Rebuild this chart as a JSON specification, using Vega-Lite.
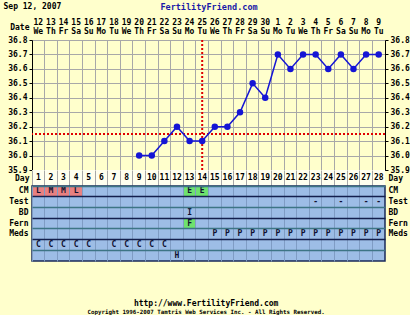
{
  "$schema": "https://vega.github.io/schema/vega-lite/v6.json",
  "background": "#ffffcc",
  "padding": {"left": 3, "top": 2, "right": 0, "bottom": 0},
  "spacing": 0,
  "bounds": "flush",
  "title": {
    "text": "http://www.FertilityFriend.com",
    "subtitle": "Copyright 1996-2007 Tamtris Web Services Inc. - All Rights Reserved.",
    "orient": "bottom", "anchor": "middle", "offset": 38,
    "font": "DejaVu Sans Mono", "fontSize": 8, "fontWeight": "bold", "color": "#000000",
    "subtitleFont": "DejaVu Sans Mono", "subtitleFontSize": 5.8, "subtitleFontWeight": "bold", "subtitleColor": "#000000", "subtitlePadding": 1
  },
  "datasets": {
    "days": [
      {"day": 1, "dom": 12, "wd": "We"}, {"day": 2, "dom": 13, "wd": "Th"}, {"day": 3, "dom": 14, "wd": "Fr"},
      {"day": 4, "dom": 15, "wd": "Sa"}, {"day": 5, "dom": 16, "wd": "Su"}, {"day": 6, "dom": 17, "wd": "Mo"},
      {"day": 7, "dom": 18, "wd": "Tu"}, {"day": 8, "dom": 19, "wd": "We"}, {"day": 9, "dom": 20, "wd": "Th"},
      {"day": 10, "dom": 21, "wd": "Fr"}, {"day": 11, "dom": 22, "wd": "Sa"}, {"day": 12, "dom": 23, "wd": "Su"},
      {"day": 13, "dom": 24, "wd": "Mo"}, {"day": 14, "dom": 25, "wd": "Tu"}, {"day": 15, "dom": 26, "wd": "We"},
      {"day": 16, "dom": 27, "wd": "Th"}, {"day": 17, "dom": 28, "wd": "Fr"}, {"day": 18, "dom": 29, "wd": "Sa"},
      {"day": 19, "dom": 30, "wd": "Su"}, {"day": 20, "dom": 1, "wd": "Mo"}, {"day": 21, "dom": 2, "wd": "Tu"},
      {"day": 22, "dom": 3, "wd": "We"}, {"day": 23, "dom": 4, "wd": "Th"}, {"day": 24, "dom": 5, "wd": "Fr"},
      {"day": 25, "dom": 6, "wd": "Sa"}, {"day": 26, "dom": 7, "wd": "Su"}, {"day": 27, "dom": 8, "wd": "Mo"},
      {"day": 28, "dom": 9, "wd": "Tu"}
    ],
    "temps": [
      {"day": 9, "temp": 36.0}, {"day": 10, "temp": 36.0}, {"day": 11, "temp": 36.1}, {"day": 12, "temp": 36.2},
      {"day": 13, "temp": 36.1}, {"day": 14, "temp": 36.1}, {"day": 15, "temp": 36.2}, {"day": 16, "temp": 36.2},
      {"day": 17, "temp": 36.3}, {"day": 18, "temp": 36.5}, {"day": 19, "temp": 36.4}, {"day": 20, "temp": 36.7},
      {"day": 21, "temp": 36.6}, {"day": 22, "temp": 36.7}, {"day": 23, "temp": 36.7}, {"day": 24, "temp": 36.6},
      {"day": 25, "temp": 36.7}, {"day": 26, "temp": 36.6}, {"day": 27, "temp": 36.7}, {"day": 28, "temp": 36.7}
    ],
    "markers": [{"ovulation": 14, "coverline": 36.15}],
    "cells": [
      {"day": 1, "row": "CM", "code": "L"}, {"day": 2, "row": "CM", "code": "M"}, {"day": 3, "row": "CM", "code": "M"},
      {"day": 4, "row": "CM", "code": "L"}, {"day": 13, "row": "CM", "code": "E"}, {"day": 14, "row": "CM", "code": "E"},
      {"day": 23, "row": "Test", "code": "-"}, {"day": 25, "row": "Test", "code": "-"}, {"day": 27, "row": "Test", "code": "-"},
      {"day": 28, "row": "Test", "code": "-"},
      {"day": 13, "row": "BD", "code": "I"},
      {"day": 13, "row": "Fern", "code": "F"},
      {"day": 15, "row": "Meds", "code": "P"}, {"day": 16, "row": "Meds", "code": "P"}, {"day": 17, "row": "Meds", "code": "P"},
      {"day": 18, "row": "Meds", "code": "P"}, {"day": 19, "row": "Meds", "code": "P"}, {"day": 20, "row": "Meds", "code": "P"},
      {"day": 21, "row": "Meds", "code": "P"}, {"day": 22, "row": "Meds", "code": "P"}, {"day": 23, "row": "Meds", "code": "P"},
      {"day": 24, "row": "Meds", "code": "P"}, {"day": 25, "row": "Meds", "code": "P"}, {"day": 26, "row": "Meds", "code": "P"},
      {"day": 27, "row": "Meds", "code": "P"}, {"day": 28, "row": "Meds", "code": "P"},
      {"day": 1, "row": "r6", "code": "C"}, {"day": 2, "row": "r6", "code": "C"}, {"day": 3, "row": "r6", "code": "C"},
      {"day": 4, "row": "r6", "code": "C"}, {"day": 5, "row": "r6", "code": "C"}, {"day": 7, "row": "r6", "code": "C"},
      {"day": 8, "row": "r6", "code": "C"}, {"day": 9, "row": "r6", "code": "C"}, {"day": 10, "row": "r6", "code": "C"},
      {"day": 11, "row": "r6", "code": "C"},
      {"day": 12, "row": "r7", "code": "H"}
    ]
  },
  "vconcat": [
    {
      "width": 353, "height": 22,
      "data": {"name": "days"},
      "layer": [
        {
          "mark": {"type": "text"},
          "encoding": {
            "x": {"field": "day", "type": "ordinal",
              "scale": {"type": "band", "domain": [1,2,3,4,5,6,7,8,9,10,11,12,13,14,15,16,17,18,19,20,21,22,23,24,25,26,27,28], "paddingInner": 0, "paddingOuter": 0},
              "axis": {"orient": "top", "labels": false, "ticks": false, "domain": false, "grid": false,
                "title": "FertilityFriend.com", "titleColor": "#1a1aa8", "titleFontSize": 8.5, "titleY": -12, "titleBaseline": "middle"}},
            "y": {"datum": "n", "type": "ordinal",
              "scale": {"type": "point", "domain": ["n", "w"], "padding": 0.722, "align": 0.385},
              "axis": {"orient": "left", "ticks": false, "domain": false, "labelPadding": 3, "labelOffset": 4,
                "labelExpr": "datum.value === 'n' ? 'Date' : ''",
                "title": "Sep 12, 2007", "titleAngle": 0, "titleAlign": "left", "titleBaseline": "middle", "titleX": -29, "titleY": -12}},
            "text": {"field": "dom"}
          }
        },
        {
          "mark": {"type": "text"},
          "encoding": {
            "x": {"field": "day", "type": "ordinal"},
            "y": {"datum": "w", "type": "ordinal"},
            "text": {"field": "wd"}
          }
        }
      ]
    },
    {
      "width": 353, "height": 130,
      "view": {"fill": "#ffffcc", "stroke": null},
      "layer": [
        {
          "data": {"name": "markers"},
          "mark": {"type": "rule", "color": "#e00000", "strokeWidth": 2, "strokeDash": [2, 2]},
          "encoding": {
            "x": {"field": "ovulation", "type": "ordinal",
              "scale": {"type": "band", "domain": [1,2,3,4,5,6,7,8,9,10,11,12,13,14,15,16,17,18,19,20,21,22,23,24,25,26,27,28], "paddingInner": 0, "paddingOuter": 0},
              "axis": {"labels": false, "ticks": false, "domain": false, "grid": true, "bandPosition": 0, "gridColor": "#a8a8a8", "title": null}}
          }
        },
        {
          "data": {"name": "markers"},
          "mark": {"type": "rule", "color": "#e00000", "strokeWidth": 2, "strokeDash": [2, 2]},
          "encoding": {
            "y": {"field": "coverline", "type": "quantitative",
              "scale": {"domain": [35.9, 36.8], "nice": false, "zero": false},
              "axis": {"orient": "right", "values": [35.9,36.0,36.1,36.2,36.3,36.4,36.5,36.6,36.7,36.8], "format": ".1f", "title": null, "tickSize": 3, "labelPadding": 2, "grid": false}}
          }
        },
        {
          "data": {"name": "temps"},
          "mark": {"type": "line", "color": "#1515d5", "strokeWidth": 1.5},
          "encoding": {
            "x": {"field": "day", "type": "ordinal",
              "axis": {"labels": false, "ticks": false, "domain": false, "grid": true, "bandPosition": 0, "gridColor": "#a8a8a8", "title": null}},
            "y": {"field": "temp", "type": "quantitative",
              "scale": {"domain": [35.9, 36.8], "nice": false, "zero": false},
              "axis": {"orient": "left", "values": [35.9,36.0,36.1,36.2,36.3,36.4,36.5,36.6,36.7,36.8], "format": ".1f", "title": null, "tickSize": 3, "labelPadding": 2,
                "grid": true,
                "gridColor": {"condition": {"test": "datum.value < 35.95", "value": "#000000"}, "value": "#a8a8a8"},
                "gridDash": {"condition": {"test": "datum.value < 35.95", "value": [2, 1]}, "value": []}}}
          }
        },
        {
          "data": {"name": "temps"},
          "mark": {"type": "point", "filled": true, "size": 42, "color": "#1515d5", "opacity": 1},
          "encoding": {
            "x": {"field": "day", "type": "ordinal"},
            "y": {"field": "temp", "type": "quantitative", "axis": null}
          }
        }
      ],
      "resolve": {"axis": {"y": "independent"}}
    },
    {
      "width": 353, "height": 16,
      "view": {"fill": "#ffffee", "stroke": null},
      "data": {"name": "days"},
      "layer": [
        {
          "mark": {"type": "text"},
          "encoding": {
            "x": {"field": "day", "type": "ordinal",
              "scale": {"type": "band", "domain": [1,2,3,4,5,6,7,8,9,10,11,12,13,14,15,16,17,18,19,20,21,22,23,24,25,26,27,28], "paddingInner": 0, "paddingOuter": 0},
              "axis": {"labels": false, "ticks": false, "domain": false, "grid": true, "bandPosition": 0, "gridColor": "#a8a8a8", "title": null}},
            "y": {"datum": "Day", "type": "nominal", "axis": {"orient": "left", "title": null, "ticks": false, "domain": false, "labelPadding": 3}},
            "text": {"field": "day"}
          }
        },
        {
          "mark": {"type": "text", "opacity": 0},
          "encoding": {
            "x": {"field": "day", "type": "ordinal"},
            "y": {"datum": "Day", "type": "nominal", "axis": {"orient": "right", "title": null, "ticks": false, "domain": false, "labelPadding": 3}},
            "text": {"field": "day"}
          }
        }
      ],
      "resolve": {"axis": {"y": "independent"}}
    },
    {
      "width": 353, "height": 75,
      "view": {"fill": "#9dbde6", "stroke": "#1a2a5a", "strokeWidth": 1.5},
      "data": {"name": "cells"},
      "layer": [
        {
          "transform": [{"filter": {"field": "code", "oneOf": ["L", "M", "E", "F"]}}],
          "mark": {"type": "rect"},
          "encoding": {
            "x": {"field": "day", "type": "ordinal",
              "scale": {"type": "band", "domain": [1,2,3,4,5,6,7,8,9,10,11,12,13,14,15,16,17,18,19,20,21,22,23,24,25,26,27,28], "paddingInner": 0, "paddingOuter": 0},
              "axis": {"labels": false, "ticks": false, "domain": false, "grid": true, "bandPosition": 0, "gridColor": "#7f9cc4", "title": null}},
            "y": {"field": "row", "type": "ordinal",
              "scale": {"type": "band", "domain": ["CM", "Test", "BD", "Fern", "Meds", "r6", "r7"], "paddingInner": 0, "paddingOuter": 0},
              "axis": {"orient": "left", "title": null, "ticks": false, "domain": false, "labelPadding": 4,
                "labelExpr": "indexof(['r6','r7'], datum.value) >= 0 ? '' : datum.value",
                "grid": true, "bandPosition": 0, "gridWidth": 1.5,
                "gridColor": {"condition": {"test": "indexof(['Test','Fern','r6'], datum.value) >= 0", "value": "#14204e"}, "value": "#3d7585"}}},
            "color": {"field": "code", "type": "nominal",
              "scale": {"domain": ["L", "M", "E", "F"], "range": ["#e88080", "#e88080", "#6ee26e", "#6ee26e"]}, "legend": null}
          }
        },
        {
          "mark": {"type": "text", "color": "#101030"},
          "encoding": {
            "x": {"field": "day", "type": "ordinal"},
            "y": {"field": "row", "type": "ordinal",
              "axis": {"orient": "right", "title": null, "ticks": false, "domain": false, "labelPadding": 3,
                "labelExpr": "indexof(['r6','r7'], datum.value) >= 0 ? '' : datum.value", "grid": false}},
            "text": {"field": "code"}
          }
        }
      ],
      "resolve": {"axis": {"y": "independent"}}
    }
  ],
  "config": {
    "view": {"stroke": null},
    "font": "DejaVu Sans Mono",
    "axis": {"labelFont": "DejaVu Sans Mono", "labelFontWeight": "bold", "labelFontSize": 8, "labelColor": "#000000",
      "titleFont": "DejaVu Sans Mono", "titleFontWeight": "bold", "titleFontSize": 8, "titleColor": "#000000",
      "tickColor": "#000000", "domainColor": "#000000", "gridOpacity": 1},
    "text": {"font": "DejaVu Sans Mono", "fontWeight": "bold", "fontSize": 8, "color": "#000000"}
  }
}
